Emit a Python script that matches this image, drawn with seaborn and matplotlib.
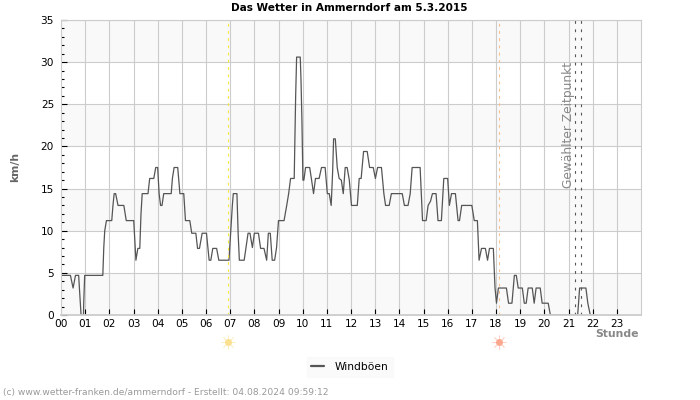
import matplotlib
matplotlib.use('Agg')
import matplotlib.pyplot as plt
import pandas as pd
import seaborn as sns
from matplotlib.ticker import MultipleLocator

# Breakpoints of the gust curve
hours = [0, 0.39, 0.5, 0.6, 0.73, 0.8, 0.83, 0.93, 0.94, 0.98, 1.73, 1.77, 1.81, 1.88, 2.1, 2.15, 2.2, 2.26, 2.36, 2.6,
         2.7, 3.01, 3.07, 3.1, 3.18, 3.26, 3.31, 3.36, 3.6, 3.67, 3.84, 3.92, 4.0, 4.06, 4.12, 4.18, 4.25, 4.56, 4.61, 4.68,
         4.83, 4.92, 5.08, 5.15, 5.33, 5.41, 5.58, 5.65, 5.73, 5.84, 6.02, 6.13, 6.2, 6.28, 6.44, 6.53, 6.95, 7.02, 7.09, 7.13,
         7.28, 7.33, 7.38, 7.58, 7.74, 7.82, 7.92, 8.0, 8.17, 8.26, 8.4, 8.51, 8.58, 8.66, 8.74, 8.84, 8.92, 9.0, 9.23, 9.34,
         9.42, 9.5, 9.65, 9.71, 9.75, 9.9, 9.93, 9.97, 10.01, 10.05, 10.12, 10.29, 10.37, 10.45, 10.53, 10.68, 10.78, 10.93, 11.02, 11.1,
         11.18, 11.24, 11.28, 11.35, 11.43, 11.51, 11.6, 11.68, 11.76, 11.84, 11.93, 12.02, 12.26, 12.34, 12.42, 12.52, 12.67, 12.77, 12.92, 13.01,
         13.1, 13.26, 13.36, 13.43, 13.58, 13.67, 14.12, 14.21, 14.36, 14.45, 14.53, 14.86, 14.91, 14.96, 15.11, 15.19, 15.29, 15.37, 15.52, 15.6,
         15.74, 15.84, 16.0, 16.07, 16.16, 16.32, 16.43, 16.49, 16.58, 17.0, 17.1, 17.23, 17.3, 17.4, 17.56, 17.65, 17.73, 17.89, 17.96, 18.02,
         18.1, 18.43, 18.52, 18.66, 18.76, 18.84, 18.92, 19.09, 19.17, 19.25, 19.33, 19.5, 19.58, 19.66, 19.83, 19.91, 20.16, 20.25, 21.38, 21.46,
         21.72, 21.8, 21.9]
gusts = [4.7, 4.7, 3.2, 4.7, 4.7, 1.4, 0, 0, 1.4, 4.7, 4.7, 8, 10, 11.2, 11.2, 13, 14.4, 14.4, 13, 13,
         11.2, 11.2, 7.9, 6.5, 7.9, 7.9, 12, 14.4, 14.4, 16.2, 16.2, 17.5, 17.5, 14.4, 13, 13, 14.4, 14.4, 16.2, 17.5,
         17.5, 14.4, 14.4, 11.2, 11.2, 9.7, 9.7, 7.9, 7.9, 9.7, 9.7, 6.5, 6.5, 7.9, 7.9, 6.5, 6.5, 9.7, 13, 14.4,
         14.4, 9.7, 6.5, 6.5, 9.7, 9.7, 8, 9.7, 9.7, 7.9, 7.9, 6.5, 9.7, 9.7, 6.5, 6.5, 8, 11.2, 11.2, 13,
         14.4, 16.2, 16.2, 26, 30.6, 30.6, 28, 23, 16, 16, 17.5, 17.5, 16, 14.4, 16.2, 16.2, 17.5, 17.5, 14.4, 14.4,
         13, 17, 20.9, 20.9, 17.5, 16.2, 16, 14.4, 17.5, 17.5, 16, 13, 13, 16.2, 16.2, 19.4, 19.4, 17.5, 17.5, 16.2,
         17.5, 17.5, 14.4, 13, 13, 14.4, 14.4, 13, 13, 14.4, 17.5, 17.5, 14.4, 11.2, 11.2, 13, 13.5, 14.4, 14.4, 11.2,
         11.2, 16.2, 16.2, 13, 14.4, 14.4, 11.2, 11.2, 13, 13, 11.2, 11.2, 6.5, 7.9, 7.9, 6.5, 7.9, 7.9, 3.2, 1.4,
         3.2, 3.2, 1.4, 1.4, 4.7, 4.7, 3.2, 3.2, 1.4, 1.4, 3.2, 3.2, 1.4, 3.2, 3.2, 1.4, 1.4, 0, 0, 3.2,
         3.2, 1.4, 0]

hour_labels = [f'{h:02d}' for h in range(24)]
sunrise = 6.93
sunset = 18.13
selected = [21.28, 21.53]

df = pd.DataFrame({'hour': hours, 'gust': gusts})

sns.set_style('white')
fig = plt.figure(figsize=(7, 4), dpi=100)
ax = fig.add_axes([61 / 700, 1 - 315 / 400, 580 / 700, 295 / 400])

# Alternating horizontal bands
for low in range(0, 35, 10):
    ax.axhspan(low, low + 5, color='#f9f9f9', lw=0, zorder=0)

ax.set_xlim(0, 24)
ax.set_ylim(0, 35)
ax.set_xticks(range(24))
ax.set_xticklabels(hour_labels)
ax.yaxis.set_major_locator(MultipleLocator(5))
ax.yaxis.set_minor_locator(MultipleLocator(1))
ax.grid(True, which='major', color='#cccccc', lw=0.8, zorder=1)
ax.set_axisbelow(True)
ax.tick_params(axis='x', which='major', direction='in', length=4, width=0.8, color='black',
               labelsize=7.6, labelcolor='black', bottom=True, pad=3)
ax.tick_params(axis='y', which='major', direction='in', length=4, width=0.8, color='black',
               labelsize=7.6, labelcolor='black', left=True, pad=5)
ax.tick_params(axis='y', which='minor', direction='in', length=2.2, width=0.8, color='black', left=True)
for side in ax.spines.values():
    side.set_color('#cccccc')
    side.set_linewidth(0.8)
# Wider bottom spine hides the curve where it sits on zero
ax.spines['bottom'].set_linewidth(1.3)

sns.lineplot(data=df, x='hour', y='gust', ax=ax, color='#555555', lw=0.9, label='Windböen', zorder=2)

# No black ticks on the corners of the frame
ax.get_xticklines()[0].set_visible(False)
y_major = ax.yaxis.get_major_ticks()
y_major[0].tick1line.set_visible(False)
y_major[-1].tick1line.set_visible(False)

# Sunrise, sunset and selected time markers
ax.axvline(sunrise, color='#f8e83c', lw=0.8, ls=(0, (2.5, 4)), zorder=2)
ax.axvline(sunset, color='#f6c08f', lw=0.8, ls=(0, (2.5, 4)), zorder=2)
for pos in selected:
    ax.axvline(pos, color='#555555', lw=0.8, ls=(0, (2.5, 5)), zorder=2)
ax.text(20.99, 30.05, 'Gewählter Zeitpunkt', rotation=90, color='#888888', fontsize=8.8, ha='center', va='top')

# Sun icons below the axis
trans = ax.get_xaxis_transform()
for pos, col in [(sunrise, '#fbe08f'), (sunset, '#fba88f')]:
    ax.plot(pos, -0.09, marker='o', ms=5, color=col, mew=0, transform=trans, clip_on=False)
    ax.plot(pos, -0.09, marker=(8, 2, 0), ms=10, color=col, mew=0.6, alpha=0.5, transform=trans, clip_on=False)

ax.set_xlabel('')
ax.set_ylabel('')
fig.text(15.5 / 700, 1 - 167 / 400, 'km/h', rotation=90, fontsize=7.8, fontweight='bold', color='#666666', ha='center', va='center')
fig.text(639 / 700, 1 - 334 / 400, 'Stunde', fontsize=7.8, fontweight='bold', color='#888888', ha='right', va='center')
fig.text(349.5 / 700, 1 - 8 / 400, 'Das Wetter in Ammerndorf am 5.3.2015', fontsize=7.6, fontweight='bold', color='black', ha='center', va='center')
fig.text(3 / 700, 1 - 393 / 400, '(c) www.wetter-franken.de/ammerndorf - Erstellt: 04.08.2024 09:59:12', fontsize=6.6, color='#999999', ha='left', va='center')

leg = ax.legend(loc='center', bbox_to_anchor=(350 / 700, 1 - 367 / 400), bbox_transform=fig.transFigure, frameon=True,
                fontsize=7.7, fancybox=False, handlelength=1.2, borderpad=0.45, handletextpad=1.0, labelcolor='black')
leg.get_frame().set_facecolor('#f9f9f9')
leg.get_frame().set_edgecolor('#f9f9f9')
leg.get_lines()[0].set_linewidth(1.6)

plt.savefig('out.png', dpi=100)
